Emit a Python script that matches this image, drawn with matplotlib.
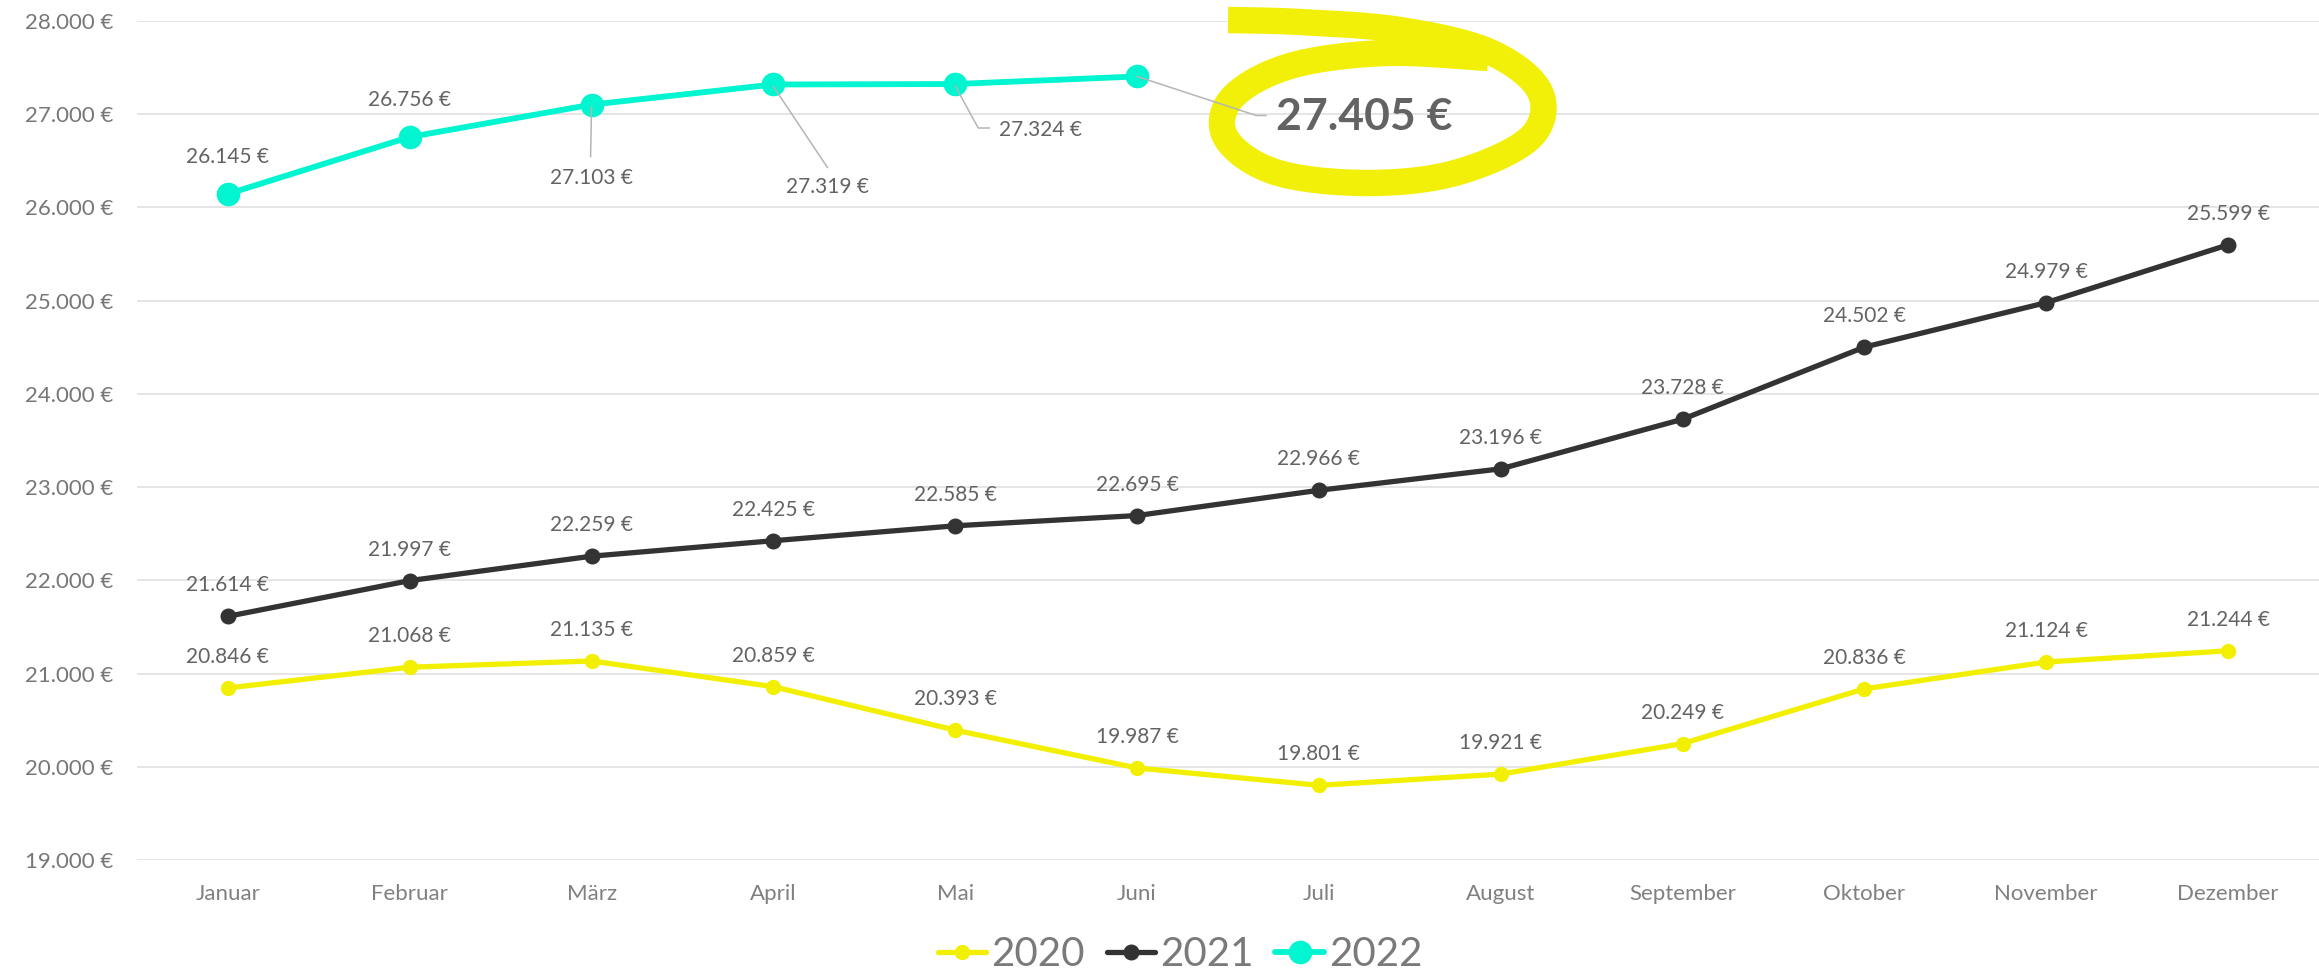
import numpy as np
import matplotlib
matplotlib.use("Agg")
import matplotlib.pyplot as plt
from matplotlib.lines import Line2D
from matplotlib.transforms import Affine2D
from matplotlib.ticker import FuncFormatter

plt.rcParams['font.family'] = ['Lato', 'DejaVu Sans']

months = ["Januar", "Februar", "März", "April", "Mai", "Juni", "Juli",
          "August", "September", "Oktober", "November", "Dezember"]
y2020 = [20846, 21068, 21135, 20859, 20393, 19987, 19801, 19921, 20249, 20836, 21124, 21244]
y2021 = [21614, 21997, 22259, 22425, 22585, 22695, 22966, 23196, 23728, 24502, 24979, 25599]
y2022 = [26145, 26756, 27103, 27319, 27324, 27405]
yticks = [19000, 20000, 21000, 22000, 23000, 24000, 25000, 26000, 27000, 28000]

C2020 = "#F2F000"
C2021 = "#333333"
C2022 = "#00F5D0"
LABEL_C = "#636363"
TICK_C = "#777777"

def eur(v):
    return f"{v:,.0f}".replace(",", ".") + " €"

W, H = 2319, 976
fig = plt.figure(figsize=(W / 100, H / 100), dpi=100)
ax = fig.add_axes([137 / W, (H - 860) / H, 2182 / W, 839 / H])
ax.set_xlim(-0.5, 11.5)
ax.set_ylim(19000, 28000)
ax.set_yticks(yticks)
ax.yaxis.set_major_formatter(FuncFormatter(lambda v, p: eur(v)))
ax.set_xticks(range(len(months)))
ax.set_xticklabels(months)
ax.tick_params(axis='y', length=0, pad=17, labelsize=16, labelcolor=TICK_C)
ax.tick_params(axis='x', length=0, pad=17, labelsize=16, labelcolor="#808080")
for s in ax.spines.values():
    s.set_visible(False)
ax.grid(axis='y', color="#dedede", lw=1.1, zorder=0)
ax.set_axisbelow(True)

x20 = np.arange(len(y2020))
x21 = np.arange(len(y2021))
x22 = np.arange(len(y2022))
l20, = ax.plot(x20, y2020, color=C2020, lw=3.8, marker='o', ms=10, zorder=3, label="2020", solid_capstyle='round')
l21, = ax.plot(x21, y2021, color=C2021, lw=3.8, marker='o', ms=10.5, zorder=3, label="2021", solid_capstyle='round')
l22, = ax.plot(x22, y2022, color=C2022, lw=4.2, marker='o', ms=16, zorder=4, label="2022", solid_capstyle='round')

for xs, ys in ((x20, y2020), (x21, y2021)):
    for xi, yi in zip(xs, ys):
        ax.annotate(eur(yi), (xi, yi), xytext=(0, 31), textcoords='offset pixels',
                    ha='center', va='center', fontsize=15, color=LABEL_C, zorder=6)

# 2022 labels (pixel offsets, y up) and leader lines
offs = {0: (0, 37, 'center', None), 1: (0, 37, 'center', None),
        2: (0, -73, 'center', [(0, -2), (-1, -52)]),
        3: (54, -103, 'center', [(0, -2), (54, -83)]),
        4: (44, -46, 'left', [(0, -2), (23, -44), (34, -44)]),
        5: (139, -41, 'left', [(0, 0), (119, -39), (129, -39)])}
for i, v in enumerate(y2022):
    dx, dy, ha, leader = offs[i]
    px, py = ax.transData.transform((i, v))
    if leader:
        pts = np.array([(px + a, py + b) for a, b in leader])
        fig.add_artist(Line2D(pts[:, 0], pts[:, 1], transform=None, color="#b5b5b5", lw=1.1, zorder=7))
    if i == 5:
        ax.annotate(eur(v), (i, v), xytext=(dx, dy), textcoords='offset pixels', ha=ha, va='center',
                    fontsize=32, fontweight='bold', color="#636363", zorder=8)
    else:
        ax.annotate(eur(v), (i, v), xytext=(dx, dy), textcoords='offset pixels', ha=ha, va='center',
                    fontsize=15, color=LABEL_C, zorder=8)

# Hand-drawn highlight loop around the last value (figure pixel coordinates, y down)
ctrl = np.array([(1228, 20), (1300, 22), (1400, 30), (1490, 52), (1540, 92), (1530, 138),
                 (1455, 173), (1365, 183), (1275, 172), (1226, 138), (1232, 98), (1290, 66),
                 (1385, 53), (1488, 58)], dtype=float)
pts = [ctrl[0]] + list(ctrl) + [ctrl[-1]]
pts = np.array(pts)
curve = []
for k in range(1, len(pts) - 2):
    p0, p1, p2, p3 = pts[k - 1], pts[k], pts[k + 1], pts[k + 2]
    for t in np.linspace(0, 1, 20, endpoint=False):
        t2, t3 = t * t, t * t * t
        curve.append(0.5 * ((2 * p1) + (-p0 + p2) * t + (2 * p0 - 5 * p1 + 4 * p2 - p3) * t2
                            + (-p0 + 3 * p1 - 3 * p2 + p3) * t3))
curve.append(pts[-2])
curve = np.array(curve)
flip = Affine2D().scale(1, -1).translate(0, H)
fig.add_artist(Line2D(curve[:, 0], curve[:, 1], transform=flip, color="#F2F000", lw=19,
                      solid_capstyle='butt', solid_joinstyle='round', zorder=5, alpha=0.97))

leg = fig.legend(handles=[l20, l21, l22], loc='center', bbox_to_anchor=(1180 / W, (H - 955) / H),
                 ncol=3, frameon=False, fontsize=29, handlelength=1.2, handletextpad=0.12,
                 columnspacing=0.55, borderaxespad=0, borderpad=0)
for t in leg.get_texts():
    t.set_color("#7a7a7a")

fig.savefig("out.png", dpi=100)
